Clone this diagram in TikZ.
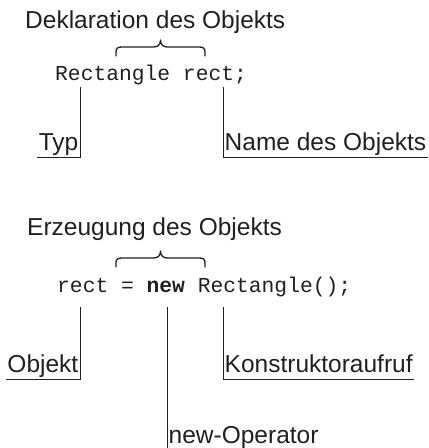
\documentclass[tikz,border=0pt]{standalone}
\usepackage{fontspec}
\setmainfont{Liberation Sans}
\newfontfamily\codefont{Liberation Mono}
\definecolor{ink}{HTML}{231F20}
\tikzset{
  title/.style={inner sep=0pt, font=\fontsize{24.5}{28}\selectfont, text=ink},
  code/.style={inner sep=0pt, font=\codefont\fontsize{21.3}{26}\selectfont, text=ink},
  lbl/.style={inner xsep=1.5pt, inner ysep=7pt, text depth=0pt, font=\fontsize{24.5}{28}\selectfont, text=ink},
  conn/.style={draw=ink, line width=1pt},
  bracestyle/.style={draw=ink, line width=1.3pt, line cap=round, line join=round}
}
\newcommand{\curlybrace}[3]{% left x, right x, base y
  \pgfmathsetmacro{\bm}{(#1+#2)/2}
  \draw[bracestyle] (#1,#3) -- (#1,#3-4) .. controls (#1,#3-8) and (#1+2,#3-9) .. (#1+6,#3-9)
    -- (\bm-7,#3-9) .. controls (\bm-3,#3-9) and (\bm,#3-11) .. (\bm,#3-16)
    .. controls (\bm,#3-11) and (\bm+3,#3-9) .. (\bm+7,#3-9)
    -- (#2-6,#3-9) .. controls (#2-2,#3-9) and (#2,#3-8) .. (#2,#3-4) -- (#2,#3);
}
\begin{document}
\begin{tikzpicture}[x=1pt,y=-1pt]
\useasboundingbox (0,0) rectangle (429,448);
% section 1
\node[title, anchor=base west] (t1) at (25,28) {Deklaration des Objekts};
\curlybrace{116}{205}{56}
\node[code, anchor=base west] (c1) at (55,80) {Rectangle rect;};
\coordinate (c1a) at (80,87);
\coordinate (c1b) at (223,87);
\node[lbl, anchor=base east] (typ) at (80,150) {Typ};
\node[lbl, anchor=base west] (name) at (223,150) {Name des Objekts};
\draw[conn] (c1a) -- (typ.south east) -- (typ.south west);
\draw[conn] (c1b) -- (name.south west) -- (name.south east);
% section 2
\node[title, anchor=base west] (t2) at (27,235) {Erzeugung des Objekts};
\curlybrace{116}{205}{267}
\node[code, anchor=base west] (c2) at (57,292) {rect = {\bfseries new} Rectangle();};
\coordinate (c2a) at (80,307);
\coordinate (c2b) at (167,307);
\coordinate (c2c) at (223,307);
\node[lbl, anchor=base east] (obj) at (80,372) {Objekt};
\node[lbl, anchor=base west] (kons) at (223,372) {Konstruktoraufruf};
\node[lbl, inner ysep=5pt, anchor=base west] (newop) at (167,443) {new-Operator};
\draw[conn] (c2a) -- (obj.south east) -- (obj.south west);
\draw[conn] (c2c) -- (kons.south west) -- (kons.south east);
\draw[conn] (c2b) -- (newop.south west);
\end{tikzpicture}
\end{document}
